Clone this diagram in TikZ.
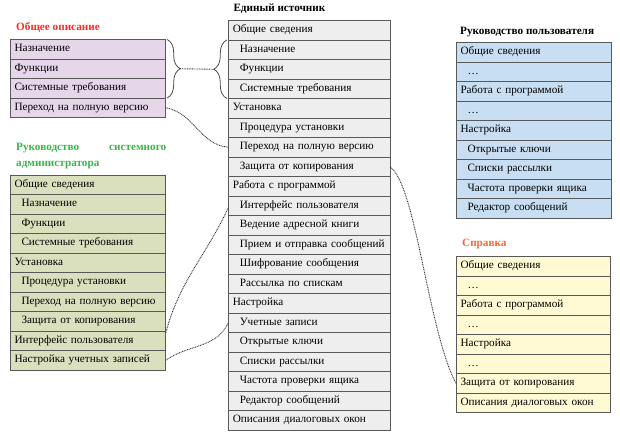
\documentclass[tikz,border=0pt]{standalone}
\usepackage{fontspec}
\setmainfont{Liberation Serif}
\usepackage{xcolor}
\usepackage{tikz}
\usetikzlibrary{positioning,calc,decorations.pathreplacing}

\definecolor{purp}{HTML}{E6D6EA}
\definecolor{grey}{HTML}{EEEEEE}
\definecolor{olive}{HTML}{DAE0BE}
\definecolor{skyb}{HTML}{C8DEF2}
\definecolor{yell}{HTML}{FFF9D4}
\definecolor{redt}{HTML}{EE3124}
\definecolor{greent}{HTML}{3BB54A}
\definecolor{oranget}{HTML}{F26A36}

\begin{document}
\begin{tikzpicture}[
    x=1pt, y=1pt,
    font=\fontsize{11.2}{14}\selectfont,
    row/.style={draw=black!65, line width=0.8pt, minimum height=19.5pt,
                inner xsep=4.5pt, inner ysep=0pt, outer sep=0pt, text width=#1,
                align=left, text height=8pt, text depth=3pt},
    orow/.style={row=146.7pt, fill=purp},
    crow/.style={row=152.7pt, fill=grey},
    arow/.style={row=146.7pt, fill=olive},
    urow/.style={row=146.7pt, fill=skyb},
    srow/.style={row=145.7pt, fill=yell},
    sub/.style={execute at begin node={\hspace*{7pt}}},
    ttl/.style={font=\fontsize{11.2}{15.5}\selectfont\bfseries, inner sep=0pt},
    brc/.style={draw=black!70, line width=0.8pt, decorate,
                decoration={brace, amplitude=13pt}},
    dots/.style={draw=black!80, line width=0.9pt, dash pattern=on 0.9pt off 0.8pt}
]
\useasboundingbox (0,0) rectangle (620,-435);

% Общее описание
\node[orow, anchor=north west] (o1) at (10,-39.5) {Назначение};
\node[orow, below=0pt of o1] (o2) {Функции};
\node[orow, below=0pt of o2] (o3) {Системные требования};
\node[orow, below=0pt of o3] (o4) {Переход на полную версию};
\node[ttl, text=redt, anchor=base west] (otitle) at ($(o1.north west)+(6,9)$) {Общее описание};

% Единый источник
\node[crow, anchor=north west] (c1) at (228.3,-20.5) {Общие сведения};
\node[crow, sub, below=0pt of c1] (c2) {Назначение};
\node[crow, sub, below=0pt of c2] (c3) {Функции};
\node[crow, sub, below=0pt of c3] (c4) {Системные требования};
\node[crow, below=0pt of c4] (c5) {Установка};
\node[crow, sub, below=0pt of c5] (c6) {Процедура установки};
\node[crow, sub, below=0pt of c6] (c7) {Переход на полную версию};
\node[crow, sub, below=0pt of c7] (c8) {Защита от копирования};
\node[crow, below=0pt of c8] (c9) {Работа с программой};
\node[crow, sub, below=0pt of c9] (c10) {Интерфейс пользователя};
\node[crow, sub, below=0pt of c10] (c11) {Ведение адресной книги};
\node[crow, sub, below=0pt of c11] (c12) {Прием и отправка сообщений};
\node[crow, sub, below=0pt of c12] (c13) {Шифрование сообщения};
\node[crow, sub, below=0pt of c13] (c14) {Рассылка по спискам};
\node[crow, below=0pt of c14] (c15) {Настройка};
\node[crow, sub, below=0pt of c15] (c16) {Учетные записи};
\node[crow, sub, below=0pt of c16] (c17) {Открытые ключи};
\node[crow, sub, below=0pt of c17] (c18) {Списки рассылки};
\node[crow, sub, below=0pt of c18] (c19) {Частота проверки ящика};
\node[crow, sub, below=0pt of c19] (c20) {Редактор сообщений};
\node[crow, below=0pt of c20] (c21) {Описания диалоговых окон};
\node[ttl, anchor=base west] (ctitle) at ($(c1.north west)+(5,8.5)$) {Единый источник};

% Руководство системного администратора
\node[arow, anchor=north west] (a1) at (10,-175) {Общие сведения};
\node[arow, sub, below=0pt of a1] (a2) {Назначение};
\node[arow, sub, below=0pt of a2] (a3) {Функции};
\node[arow, sub, below=0pt of a3] (a4) {Системные требования};
\node[arow, below=0pt of a4] (a5) {Установка};
\node[arow, sub, below=0pt of a5] (a6) {Процедура установки};
\node[arow, sub, below=0pt of a6] (a7) {Переход на полную версию};
\node[arow, sub, below=0pt of a7] (a8) {Защита от копирования};
\node[arow, below=0pt of a8] (a9) {Интерфейс пользователя};
\node[arow, below=0pt of a9] (a10) {Настройка учетных записей};
\node[ttl, text=greent, text width=150pt, align=justify, anchor=south west]
    (atitle) at ($(a1.north west)+(6,6)$) {Руководство системного администратора};

% Руководство пользователя
\node[urow, anchor=north west] (u1) at (456,-42.7) {Общие сведения};
\node[urow, sub, below=0pt of u1] (u2) {…};
\node[urow, below=0pt of u2] (u3) {Работа с программой};
\node[urow, sub, below=0pt of u3] (u4) {…};
\node[urow, below=0pt of u4] (u5) {Настройка};
\node[urow, sub, below=0pt of u5] (u6) {Открытые ключи};
\node[urow, sub, below=0pt of u6] (u7) {Списки рассылки};
\node[urow, sub, below=0pt of u7] (u8) {Частота проверки ящика};
\node[urow, sub, below=0pt of u8] (u9) {Редактор сообщений};
\node[ttl, anchor=base west] (utitle) at ($(u1.north west)+(4,7.7)$) {Руководство пользователя};

% Справка
\node[srow, anchor=north west] (s1) at (456,-256.7) {Общие сведения};
\node[srow, sub, below=0pt of s1] (s2) {…};
\node[srow, below=0pt of s2] (s3) {Работа с программой};
\node[srow, sub, below=0pt of s3] (s4) {…};
\node[srow, below=0pt of s4] (s5) {Настройка};
\node[srow, sub, below=0pt of s5] (s6) {…};
\node[srow, below=0pt of s6] (s7) {Защита от копирования};
\node[srow, below=0pt of s7] (s8) {Описания диалоговых окон};
\node[ttl, text=oranget, anchor=base west] (stitle) at ($(s1.north west)+(6,9.7)$) {Справка};

% braces
\draw[brc] ([xshift=1.5pt]o1.north east) -- ([xshift=1.5pt]o3.south east);
\draw[brc] ([xshift=-1.5pt]c4.south west) -- ([xshift=-1.5pt]c2.north west);
\coordinate (obr) at ($(o1.north east)!0.5!(o3.south east)+(14.5,0)$);
\coordinate (cbr) at ($(c2.north west)!0.5!(c4.south west)+(-14.5,0)$);

% links
\draw[dots] (obr) -- (cbr);
\draw[dots] (o4.east) to[out=-10, in=175] (c7.west);
\draw[dots] (c8.east) .. controls +(26,-18) and +(-28,53) .. (s7.west);
\draw[dots] ([yshift=-2pt]a9.north east) to[out=75, in=-115] ([yshift=-2pt]c10.west);
\draw[dots] (a10.east) to[out=35, in=-115] (c16.west);

\end{tikzpicture}
\end{document}
